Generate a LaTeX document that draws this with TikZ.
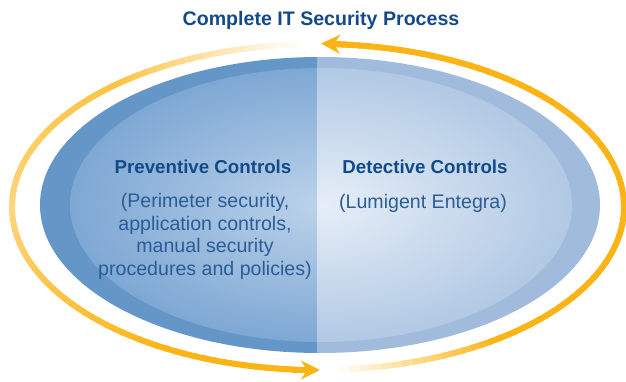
\documentclass[tikz,border=0pt]{standalone}
\usepackage{fontspec}
\setmainfont{Liberation Sans}
\usetikzlibrary{arrows.meta}
\definecolor{ringor}{HTML}{FBB416}
\definecolor{titleblue}{HTML}{124A88}
\definecolor{bodyblue}{HTML}{2C5C96}
\definecolor{lout}{HTML}{6496C8}
\definecolor{lin}{HTML}{7EA8D4}
\definecolor{lglow}{HTML}{BCD2EA}
\definecolor{rout}{HTML}{A0BBDC}
\definecolor{rin}{HTML}{B1C9E4}
\definecolor{rglow}{HTML}{E6EEF7}
\tikzset{
  ringseg/.style={line width=6pt, line cap=butt},
  ringarrow/.style={ringor, line width=6pt, -{Stealth[length=19pt,width=19pt,inset=6pt]}},
  headtext/.style={text=titleblue, font=\fontsize{18.7}{22}\selectfont\bfseries, inner sep=0pt},
  bodytext/.style={text=bodyblue, font=\fontsize{19.6}{22.5}\selectfont, align=center, inner sep=0pt},
}
\begin{document}
\begin{tikzpicture}[x=1pt,y=1pt]
\useasboundingbox (0,0) rectangle (626,381);
\coordinate (oc) at (318,174);
\coordinate (bc) at (320,176);
\coordinate (ic) at (321,176);
% blue ellipse, left half
\begin{scope}
  \clip (0,0) rectangle (317,381);
  \fill[lout] (bc) ellipse[x radius=280pt, y radius=148pt];
  \shade[inner color=lglow, outer color=lin] (ic) ellipse[x radius=251pt, y radius=137pt];
\end{scope}
% blue ellipse, right half
\begin{scope}
  \clip (317,0) rectangle (626,381);
  \fill[rout] (bc) ellipse[x radius=280pt, y radius=148pt];
  \shade[inner color=rglow, outer color=rin] (ic) ellipse[x radius=251pt, y radius=137pt];
\end{scope}
% orange ring, right arc (bottom -> top)
\foreach \t [evaluate=\t as \p using {min(100,(\t+88)/32*100)}] in {-88,-86,...,84}
  \draw[ringseg, color=ringor!\p!white] (oc) ++(\t:306pt and 163pt)
    arc[start angle=\t, end angle=\t+2.5, x radius=306pt, y radius=163pt];
% orange ring, left arc (top -> bottom)
\foreach \t [evaluate=\t as \p using {(\t-92)/38*80}] in {92,94,...,128}
  \draw[ringseg, color=ringor!\p!white] (oc) ++(\t:306pt and 163pt)
    arc[start angle=\t, end angle=\t+2.5, x radius=306pt, y radius=163pt];
\foreach \t [evaluate=\t as \p using {80-(\t-130)/50*25}] in {130,132,...,178}
  \draw[ringseg, color=ringor!\p!white] (oc) ++(\t:306pt and 163pt)
    arc[start angle=\t, end angle=\t+2.5, x radius=306pt, y radius=163pt];
\foreach \t [evaluate=\t as \p using {55+min(45,(\t-180)/60*45)}] in {180,182,...,264}
  \draw[ringseg, color=ringor!\p!white] (oc) ++(\t:306pt and 163pt)
    arc[start angle=\t, end angle=\t+2.5, x radius=306pt, y radius=163pt];
% arrowheads
\coordinate (topback) at (347,336.5);
\coordinate (toptip) at (321,337.5);
\coordinate (botback) at (292,11);
\coordinate (bottip) at (320,11);
\draw[ringarrow] (topback) -- (toptip);
\draw[ringarrow] (botback) -- (bottip);
% texts
\node[text=titleblue, font=\fontsize{19.6}{22}\selectfont\bfseries, inner sep=0pt] (title) at (321,361) {Complete IT Security Process};
\node[headtext] (prevH) at (203,214) {Preventive Controls};
\node[headtext] (detH) at (425,214) {Detective Controls};
\node[bodytext] (prevB) at (205,144.5) {(Perimeter security,\\application controls,\\manual security\\procedures and policies)};
\node[bodytext] (detB) at (423,178) {(Lumigent Entegra)};
\end{tikzpicture}
\end{document}
